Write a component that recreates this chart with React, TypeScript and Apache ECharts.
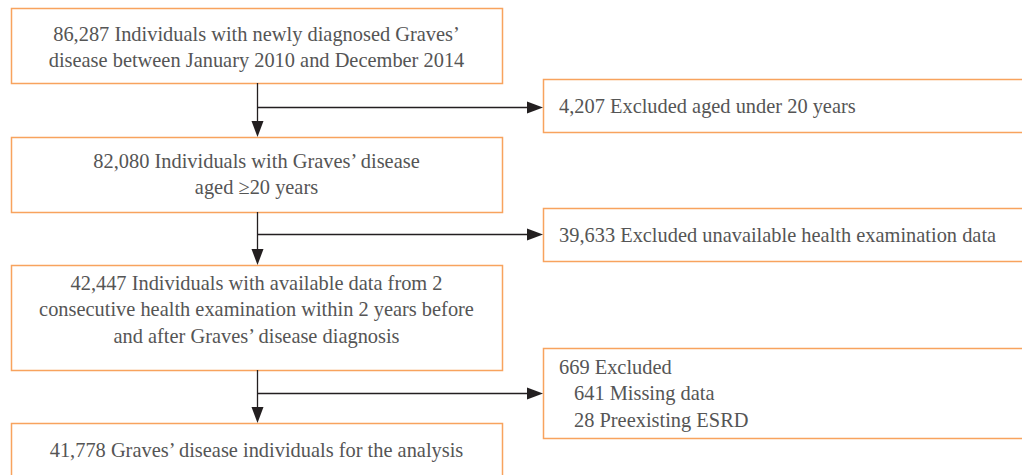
import React, { useEffect, useRef } from "react";
import * as echarts from "echarts";

// ---- data ----
const mainCounts = ["86,287", "82,080", "42,447", "41,778"];
const mainTexts: string[][] = [
  ["86,287 Individuals with newly diagnosed Graves’", "disease between January 2010 and December 2014"],
  ["82,080 Individuals with Graves’ disease", "aged ≥20 years"],
  [
    "42,447 Individuals with available data from 2",
    "consecutive health examination within 2 years before",
    "and after Graves’ disease diagnosis",
  ],
  ["41,778 Graves’ disease individuals for the analysis"],
];
const excludedCounts = ["4,207", "39,633", "669"];
const excludedTexts: string[][] = [
  ["4,207 Excluded aged under 20 years"],
  ["39,633 Excluded unavailable health examination data"],
  ["669 Excluded", "641 Missing data", "28 Preexisting ESRD"],
];
const excludedIndent: number[][] = [[0], [0], [0, 1, 1]];

// ---- layout ----
const MAIN_X0 = 11;
const MAIN_X1 = 502;
const mainBoxes = [
  { y0: 8, y1: 83 },
  { y0: 137, y1: 212 },
  { y0: 265, y1: 370 },
  { y0: 423, y1: 490 },
];
const mainTextCenters = [47, 174, 309, 450];
const EX_X0 = 543;
const EX_X1 = 1040;
const exBoxes = [
  { y0: 79, y1: 132 },
  { y0: 208, y1: 261 },
  { y0: 348, y1: 438 },
];
const exTextCenters = [106, 235, 393];
const branchY = [107, 234, 393];
const SPINE_X = 257;
const LINE_H = 26.5;

const BORDER = "#F8A35E";
const TEXT = "#555555";
const LINE = "#231F20";
const FONT_FAMILY = "'Liberation Serif', 'DejaVu Serif', serif";
const FONT_SIZE = 20.4;

export default function App() {
  const ref = useRef<HTMLDivElement>(null);
  useEffect(() => {
    document.body.style.margin = "0";
    if (!ref.current) return;
    const chart = echarts.init(ref.current, undefined, { renderer: "svg" });
    const els: any[] = [];
    const txtStyle = (t: string, align: string) => ({
      text: t,
      fontFamily: FONT_FAMILY,
      fontSize: FONT_SIZE,
      fill: TEXT,
      align,
      verticalAlign: "middle",
    });

    mainBoxes.forEach((b, i) => {
      els.push({
        type: "rect",
        shape: { x: MAIN_X0 + 0.5, y: b.y0 + 0.5, width: MAIN_X1 - MAIN_X0, height: b.y1 - b.y0 },
        style: { fill: "#fff", stroke: BORDER, lineWidth: 1.5 },
        z: 1,
      });
      const lines = mainTexts[i];
      const cx = (MAIN_X0 + MAIN_X1) / 2;
      lines.forEach((t, j) => {
        els.push({
          type: "text",
          x: cx,
          y: mainTextCenters[i] + (j - (lines.length - 1) / 2) * LINE_H,
          style: txtStyle(t, "center"),
          z: 3,
        });
      });
    });

    exBoxes.forEach((b, i) => {
      els.push({
        type: "rect",
        shape: { x: EX_X0 + 0.5, y: b.y0 + 0.5, width: EX_X1 - EX_X0, height: b.y1 - b.y0 },
        style: { fill: "#fff", stroke: BORDER, lineWidth: 1.5 },
        z: 1,
      });
      const lines = excludedTexts[i];
      lines.forEach((t, j) => {
        els.push({
          type: "text",
          x: 559 + excludedIndent[i][j] * 15,
          y: exTextCenters[i] + (j - (lines.length - 1) / 2) * LINE_H,
          style: txtStyle(t, "left"),
          z: 3,
        });
      });
    });

    // connectors
    for (let k = 0; k < 3; k++) {
      const yTop = mainBoxes[k].y1;
      const yBot = mainBoxes[k + 1].y0;
      els.push({
        type: "line",
        shape: { x1: SPINE_X + 0.5, y1: yTop, x2: SPINE_X + 0.5, y2: yBot - 14 },
        style: { stroke: LINE, lineWidth: 1.3 },
        z: 2,
      });
      els.push({
        type: "polygon",
        shape: { points: [[SPINE_X - 5.5, yBot - 16], [SPINE_X + 6.5, yBot - 16], [SPINE_X + 0.5, yBot]] },
        style: { fill: LINE },
        z: 2,
      });
      const by = branchY[k] + 0.5;
      els.push({
        type: "line",
        shape: { x1: SPINE_X + 0.5, y1: by, x2: EX_X0 - 14, y2: by },
        style: { stroke: LINE, lineWidth: 1.3 },
        z: 2,
      });
      els.push({
        type: "polygon",
        shape: { points: [[EX_X0 - 16, by - 6], [EX_X0 - 16, by + 6], [EX_X0, by]] },
        style: { fill: LINE },
        z: 2,
      });
    }

    chart.setOption({
      animation: false,
      backgroundColor: "#ffffff",
      graphic: { elements: els },
    });
    return () => chart.dispose();
  }, []);
  return <div ref={ref} style={{ width: 1022, height: 475 }} data-counts={[...mainCounts, ...excludedCounts].join("|")} />;
}
